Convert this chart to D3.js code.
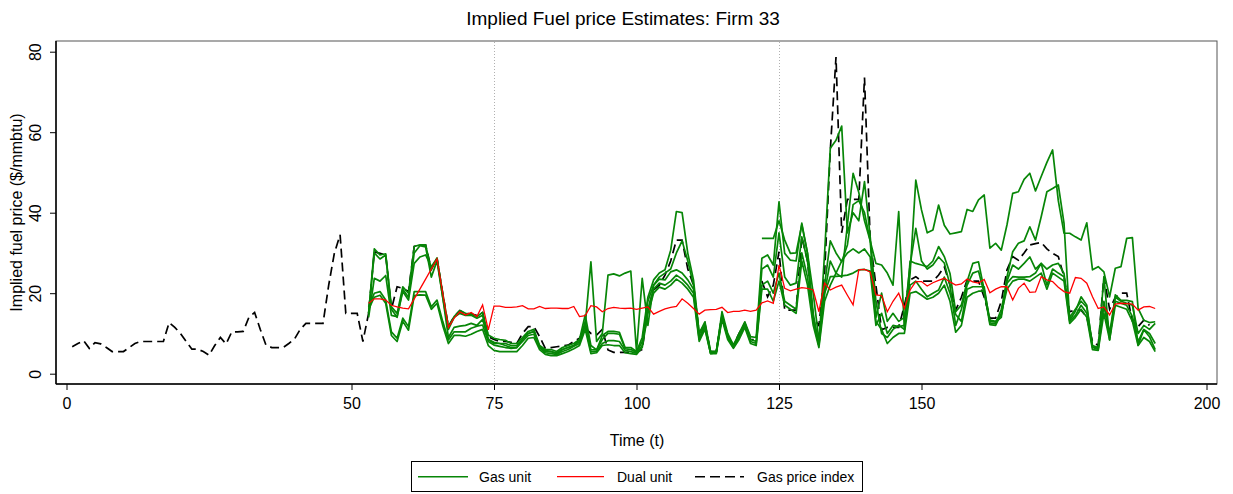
<!DOCTYPE html>
<html><head><meta charset="utf-8">
<script src="https://cdn.jsdelivr.net/npm/d3@7/dist/d3.min.js"></script>
<style>body{margin:0;background:#fff}svg{display:block;font-family:"Liberation Sans",Arial,Helvetica,sans-serif}</style>
</head><body><svg id="c" width="1233" height="494"></svg>
<script>
// ---------- DATA ----------
const title = "Implied Fuel price Estimates: Firm 33";
const xTicks = [0, 50, 75, 100, 125, 150, 200];
const yTicks = [0, 20, 40, 60, 80];
const refLines = [75, 125];
const indexStart = 1;   // gas price index starts at t=1
const unitStart = 53;   // unit series start at t=53
const gasIndex = [
 6.7, 7.5, 8.2, 6.3, 7.7, 7.4, 6.5, 5.5, 5.5, 5.5,
 6.5, 7.5, 8.0, 8.0, 8.0, 8.0, 8.0, 12.7, 11.5, 10.0,
 8.0, 6.1, 6.1, 5.5, 4.6, 7.0, 9.0, 7.4, 10.4, 10.4,
 10.5, 14.0, 15.2, 11.0, 7.1, 6.5, 6.5, 6.5, 7.5, 8.6,
 11.0, 12.5, 12.5, 12.5, 12.5, 22.0, 30.0, 34.5, 15.0, 15.0,
 15.0, 8.0, 15.0, 30.3, 29.9, 29.5, 16.0, 21.6, 21.2, 20.4,
 31.6, 32.0, 32.0, 26.0, 28.7, 20.0, 11.7, 14.2, 15.7, 15.0,
 14.8, 14.5, 15.2, 9.2, 8.5, 8.0, 8.0, 7.8, 7.5, 10.0,
 11.7, 11.7, 9.2, 6.3, 6.5, 6.7, 6.9, 7.1, 8.0, 8.8,
 11.3, 10.0, 9.6, 11.0, 5.9, 5.3, 5.3, 5.3, 5.3, 5.3,
 6.0, 16.0, 20.8, 22.0, 24.5, 28.0, 33.2, 33.2, 26.0, 22.0,
 10.0, 12.5, 5.5, 5.5, 14.5, 9.5, 7.0, 10.0, 12.5, 8.5,
 8.5, 23.0, 19.1, 22.0, 30.3, 15.8, 15.8, 15.8, 34.0, 28.0,
 14.0, 12.0, 25.0, 55.5, 78.7, 35.0, 43.3, 43.3, 43.3, 73.6,
 33.2, 22.0, 10.9, 11.5, 11.5, 11.5, 17.0, 23.3, 24.1, 23.0,
 23.0, 23.0, 24.5, 26.6, 22.0, 15.8, 19.0, 23.3, 23.0, 23.0,
 19.0, 13.8, 13.8, 18.0, 25.8, 29.1, 28.2, 30.0, 32.0, 32.3,
 32.6, 31.0, 29.9, 29.1, 24.1, 15.4, 15.8, 15.8, 14.0, 8.0,
 7.0, 24.1, 16.0, 19.0, 20.0, 20.0, 13.0, 11.7, 13.3, 12.0
];
const dualUnit = [
 17.5, 18.6, 18.6, 18.3, 17.0, 16.6, 16.3, 16.1, 18.6, 21.0,
 23.5, 26.0, 28.5, 20.0, 11.5, 13.8, 15.4, 14.6, 15.2, 14.2,
 17.1, 10.9, 16.8, 16.8, 16.5, 16.5, 16.6, 16.9, 16.1, 16.1,
 16.7, 16.2, 16.3, 16.3, 16.2, 16.2, 16.7, 14.2, 14.4, 16.9,
 16.6, 15.4, 16.2, 16.5, 16.3, 16.2, 16.3, 16.0, 16.3, 16.6,
 14.8, 15.5, 16.1, 16.5, 16.7, 18.6, 17.5, 16.2, 14.8, 15.8,
 15.9, 16.0, 16.5, 15.2, 15.5, 15.5, 15.8, 15.5, 15.8, 17.6,
 18.1, 17.5, 27.0, 21.2, 20.6, 21.0, 21.4, 21.2, 20.8, 15.4,
 22.5, 20.8, 21.5, 22.0, 19.5, 17.1, 25.8, 25.9, 25.3, 19.6,
 19.4, 15.4, 18.0, 20.0, 16.2, 20.8, 22.9, 22.9, 21.8, 22.6,
 23.2, 23.7, 22.8, 22.0, 22.3, 23.5, 22.8, 22.5, 23.4, 20.1,
 21.0, 21.6, 21.6, 18.3, 21.2, 22.5, 20.2, 20.3, 24.1, 23.3,
 22.9, 21.5, 20.4, 20.0, 23.9, 23.7, 22.5, 19.1, 16.2, 16.6,
 14.6, 17.3, 17.5, 17.4, 17.3, 15.8, 16.6, 16.7, 16.2
];
const gasUnit1 = [
 15.0, 30.0, 28.5, 29.5, 16.0, 14.0, 21.0, 19.0, 30.0, 31.8,
 31.5, 24.0, 28.0, 19.0, 11.0, 14.0, 15.0, 14.5, 14.5, 13.8,
 14.5, 8.5, 7.5, 7.5, 7.0, 6.5, 6.5, 8.5, 10.0, 10.5,
 6.5, 5.5, 5.5, 5.0, 6.0, 6.5, 7.0, 8.5, 12.0, 27.8,
 8.0, 10.0, 24.5, 24.8, 24.3, 25.0, 25.5, 5.5, 23.7, 12.0,
 22.0, 24.0, 25.0, 26.0, 30.0, 33.0, 28.0, 22.0, 10.0, 12.0,
 5.5, 5.5, 14.5, 9.5, 7.0, 9.5, 12.5, 9.0, null, 33.6,
 33.6, 33.6, 38.0, 33.2, 29.9, 30.0, 37.0, 30.0, 20.0, 8.4,
 20.0, 28.0, 25.0, 24.0, 37.0, 49.8, 45.0, 38.0, 33.0, 27.4,
 27.0, 25.0, 22.0, 40.3, 10.9, 25.0, 48.1, 40.7, 35.0, 35.7,
 41.9, 36.9, 34.7, 35.0, 35.3, 40.8, 40.3, 43.2, 44.4, 31.2,
 32.4, 30.7, 37.0, 44.8, 45.2, 48.3, 49.8, 45.4, 49.0, 52.5,
 55.6, 43.0, 34.9, 34.9, 34.0, 33.2, 37.5, 25.8, 26.6, 25.3,
 19.1, 26.2, 26.6, 33.6, 33.8, 16.2, 13.3, 12.7, 12.9
];
const gasUnit2 = [
 15.0, 31.0, 29.5, 29.8, 16.6, 15.0, 21.6, 20.0, 31.6, 32.0,
 32.0, 25.8, 28.7, 20.0, 11.7, 14.2, 15.7, 15.0, 14.8, 14.2,
 15.2, 9.6, 8.8, 8.5, 8.3, 7.5, 7.5, 9.0, 10.5, 11.0,
 7.0, 6.0, 6.0, 5.5, 6.5, 7.0, 7.5, 8.5, 14.6, 7.0,
 5.9, 9.5, 10.5, 10.5, 10.3, 6.5, 6.5, 5.5, 9.0, 19.0,
 23.3, 25.0, 25.8, 30.7, 40.3, 40.0, 29.9, 23.3, 10.0, 12.9,
 5.5, 5.5, 15.4, 10.0, 7.1, 10.0, 12.9, 9.2, 9.0, 28.7,
 29.5, 27.0, 42.7, 29.9, 28.2, 28.0, 37.4, 29.9, 15.0, 7.0,
 30.0, 56.0, 58.0, 61.5, 35.0, 40.0, 38.0, 47.7, 34.0, 18.0,
 10.0, 9.0, 11.0, 12.0, 11.0, 28.0, 27.4, 27.0, 26.6, 28.0,
 31.6, 29.1, 24.9, 15.4, 17.1, 22.9, 27.4, 27.8, 20.8, 13.3,
 13.0, 14.6, 24.1, 30.3, 32.4, 33.0, 36.5, 33.2, 39.0, 45.2,
 46.0, 46.9, 37.4, 13.3, 15.5, 19.1, 17.0, 6.7, 6.3, 24.1,
 8.4, 19.6, 18.2, 18.2, 17.9, 7.1, 10.9, 9.2, 6.0
];
const gasUnit3 = [
 14.0, 23.7, 23.0, 24.4, 14.5, 14.2, 20.4, 18.3, 27.4, 29.0,
 29.5, 26.6, 28.7, 19.0, 9.0, 11.5, 11.8, 12.0, 12.5, 12.0,
 13.5, 8.5, 7.8, 7.5, 7.5, 7.0, 7.0, 8.5, 10.0, 10.5,
 6.8, 5.8, 5.5, 5.2, 6.0, 6.5, 7.0, 8.0, 13.0, 6.0,
 5.9, 8.5, 10.0, 10.0, 9.8, 6.2, 6.0, 5.3, 8.0, 18.0,
 22.0, 23.5, 23.3, 25.3, 25.8, 25.0, 23.3, 21.0, 9.0, 12.0,
 5.2, 5.5, 14.5, 9.5, 6.8, 9.5, 12.5, 8.5, 8.0, 26.0,
 27.0, 24.0, 35.0, 24.0, 22.0, 22.5, 34.0, 28.0, 14.0, 7.5,
 22.0, 33.0, 30.0, 27.8, 32.0, 42.0, 43.0, 40.0, 33.0, 14.0,
 20.0, 13.0, 15.0, 13.0, 14.0, 27.0, 36.1, 28.0, 26.0, 27.0,
 29.0, 27.5, 22.0, 12.0, 16.0, 22.0, 25.0, 25.5, 20.0, 13.0,
 12.8, 14.0, 23.0, 27.0, 26.0, 27.4, 29.0, 26.0, 27.4, 26.0,
 27.0, 27.4, 24.9, 14.0, 16.0, 18.0, 16.5, 7.0, 6.5, 18.0,
 10.0, 19.0, 18.0, 17.5, 17.0, 10.0, 12.0, 11.0, 12.5
];
const gasUnit4 = [
 16.5, 20.0, 20.4, 18.3, 10.4, 8.8, 13.8, 11.7, 20.4, 20.4,
 20.4, 16.6, 18.3, 13.0, 8.4, 10.4, 10.4, 10.4, 11.3, 11.8,
 12.1, 8.0, 7.1, 6.8, 6.5, 6.3, 6.5, 8.0, 9.5, 9.8,
 6.5, 5.2, 5.0, 4.8, 5.5, 6.0, 6.8, 7.5, 12.0, 5.5,
 5.5, 7.5, 8.2, 8.2, 8.0, 5.8, 5.5, 5.1, 7.0, 16.0,
 21.0, 22.5, 22.0, 23.0, 24.5, 23.5, 22.0, 20.0, 8.5, 11.5,
 5.0, 5.2, 14.0, 9.0, 6.5, 9.0, 12.0, 8.0, 7.5, 22.0,
 23.0, 20.0, 25.0, 18.0, 17.0, 16.0, 30.0, 24.0, 13.0, 7.0,
 20.0, 24.1, 24.2, 24.3, 24.5, 25.0, 25.8, 25.9, 25.5, 12.0,
 15.0, 10.0, 12.0, 11.7, 12.0, 22.0, 23.0, 21.0, 19.1, 20.0,
 20.8, 24.0, 20.0, 14.7, 13.0, 21.0, 21.6, 21.6, 21.6, 12.6,
 12.4, 16.0, 22.5, 24.1, 24.0, 24.0, 24.1, 25.0, 27.4, 22.0,
 26.0, 25.0, 24.1, 13.0, 14.5, 17.0, 15.0, 6.5, 6.0, 17.0,
 9.0, 18.0, 17.5, 17.0, 14.2, 8.0, 11.0, 10.0, 7.5
];
const gasUnit5 = [
 16.0, 19.0, 19.5, 17.5, 9.5, 8.0, 13.0, 10.8, 19.4, 19.6,
 19.5, 16.0, 17.5, 12.0, 7.5, 9.5, 9.5, 9.3, 9.8, 10.5,
 11.0, 7.0, 5.8, 5.5, 5.5, 5.5, 5.5, 7.0, 8.8, 9.0,
 6.0, 4.8, 4.5, 4.5, 5.0, 5.5, 6.2, 7.0, 11.0, 5.0,
 5.2, 7.0, 7.2, 7.0, 7.0, 5.2, 5.0, 4.8, 6.5, 15.0,
 20.0, 21.5, 21.0, 22.0, 23.5, 22.5, 21.0, 19.0, 8.0, 11.0,
 5.0, 5.0, 13.5, 8.5, 6.3, 8.5, 11.5, 7.5, 7.0, 21.0,
 21.0, 18.0, 23.0, 17.0, 16.0, 15.0, 28.0, 22.0, 12.0, 6.5,
 18.0, 22.0, 25.0, 28.0, 30.0, 31.0, 30.0, 31.0, 29.0, 13.0,
 11.0, 7.5, 9.0, 10.0, 10.0, 20.0, 20.4, 19.5, 18.5, 19.0,
 20.0, 22.0, 18.0, 10.3, 12.0, 19.0, 20.0, 20.5, 20.5, 12.2,
 12.0, 15.0, 21.0, 23.0, 23.5, 23.5, 23.0, 24.0, 25.0, 21.0,
 25.0, 24.0, 23.0, 12.5, 14.0, 16.0, 14.0, 6.0, 5.8, 15.0,
 8.4, 17.0, 16.5, 16.0, 13.0, 7.0, 9.0, 8.0, 5.5
];
const gasUnits = [gasUnit1, gasUnit2, gasUnit3, gasUnit4, gasUnit5];
const legendLabels = ["Gas unit", "Dual unit", "Gas price index"];
const colors = {gas: "#078607", dual: "#ff0000", index: "#000000"};

// ---------- CHART ----------
const svg = d3.select("#c");
const box = {l: 56, r: 1217, t: 41, b: 384};
const x = d3.scaleLinear().domain([0, 200]).range([66.5, 1206.5]);
const y = d3.scaleLinear().domain([0, 80]).range([373.7, 51.7]);
const FONT = 16;

svg.append("rect").attr("width", 1233).attr("height", 494).attr("fill", "#fff");

svg.append("text").attr("x", 623).attr("y", 25).attr("text-anchor", "middle")
  .attr("font-size", 19).attr("fill", "#000").text(title);

// plot frame
svg.append("rect").attr("x", box.l).attr("y", box.t)
  .attr("width", box.r - box.l).attr("height", box.b - box.t)
  .attr("fill", "#fff").attr("stroke", "#555").attr("stroke-width", 1);

// reference lines
svg.append("g").selectAll("line").data(refLines).join("line")
  .attr("x1", d => Math.round(x(d)) + 0.5).attr("x2", d => Math.round(x(d)) + 0.5)
  .attr("y1", box.t + 1).attr("y2", box.b - 1)
  .attr("stroke", "#b0b0b0").attr("stroke-width", 1).attr("stroke-dasharray", "1,2");

// axes
const xAxis = svg.append("g").attr("transform", `translate(0,${box.b})`)
  .call(d3.axisBottom(x).tickValues(xTicks).tickSize(6).tickPadding(8).tickFormat(d3.format("d")));
xAxis.select(".domain").attr("d", `M${box.l},0H${box.r}`).attr("stroke", "#000").attr("stroke-width", 1.5);
xAxis.selectAll("text").attr("font-size", FONT).attr("font-family", null).attr("fill", "#000");

const yAxis = svg.append("g").attr("transform", `translate(${box.l},0)`)
  .call(d3.axisLeft(y).tickValues(yTicks).tickSize(6).tickFormat(d3.format("d")));
yAxis.select(".domain").attr("d", `M0,${box.t}V${box.b}`).attr("stroke", "#000").attr("stroke-width", 1.5);
yAxis.selectAll("text").attr("font-size", FONT).attr("font-family", null).attr("fill", "#000")
  .attr("x", null).attr("dy", null).attr("text-anchor", "middle")
  .attr("transform", "translate(-15,0) rotate(-90)");

svg.append("text").attr("x", 637).attr("y", 446).attr("text-anchor", "middle")
  .attr("font-size", FONT).text("Time (t)");
svg.append("text").attr("transform", `translate(22,${(box.t + box.b) / 2}) rotate(-90)`)
  .attr("text-anchor", "middle").attr("font-size", FONT).text("Implied fuel price ($/mmbtu)");

// lines
const line = d3.line().defined(d => d.v != null).x(d => x(d.t)).y(d => y(d.v));
const toPts = (arr, start) => arr.map((v, i) => ({t: start + i, v}));
const plot = svg.append("g");

plot.append("path").datum(toPts(gasIndex, indexStart)).attr("d", line)
  .attr("fill", "none").attr("stroke", colors.index).attr("stroke-width", 1.7)
  .attr("stroke-dasharray", "9,5");

plot.selectAll(".gas").data(gasUnits).join("path").attr("class", "gas")
  .attr("d", d => line(toPts(d, unitStart)))
  .attr("fill", "none").attr("stroke", colors.gas).attr("stroke-width", 1.7)
  .attr("stroke-linejoin", "round");

plot.append("path").datum(toPts(dualUnit, unitStart)).attr("d", line)
  .attr("fill", "none").attr("stroke", colors.dual).attr("stroke-width", 1.3);

// legend
const lg = svg.append("g");
lg.append("rect").attr("x", 411.5).attr("y", 461.5).attr("width", 451).attr("height", 30)
  .attr("fill", "#fff").attr("stroke", "#000").attr("stroke-width", 1);
const items = [
  {x1: 418, x2: 468, tx: 479, c: colors.gas, dash: null, w: 1.6},
  {x1: 557, x2: 604, tx: 617, c: colors.dual, dash: null, w: 1.3},
  {x1: 695, x2: 744, tx: 757, c: colors.index, dash: "10,5", w: 1.6}
];
items.forEach((it, i) => {
  lg.append("line").attr("x1", it.x1).attr("x2", it.x2).attr("y1", 476.7).attr("y2", 476.7)
    .attr("stroke", it.c).attr("stroke-width", it.w).attr("stroke-dasharray", it.dash);
  lg.append("text").attr("x", it.tx).attr("y", 481.5).attr("font-size", 14).text(legendLabels[i]);
});
</script></body></html>
